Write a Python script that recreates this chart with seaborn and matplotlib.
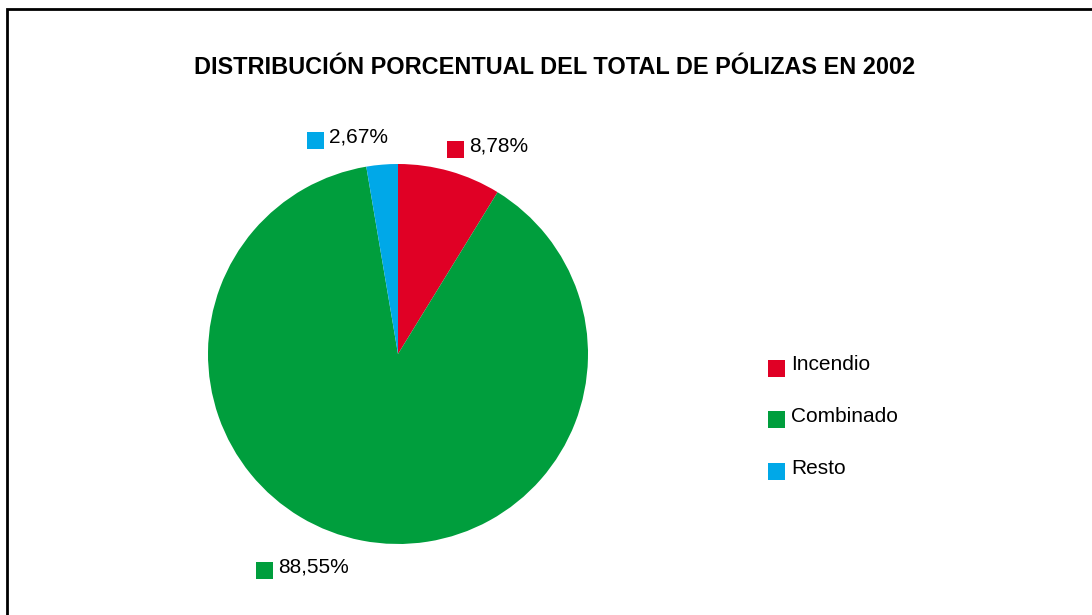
import numpy as np
import matplotlib
matplotlib.use("Agg")
import matplotlib.pyplot as plt
import matplotlib.patches as mpatches
import seaborn as sns

sns.set_theme(style="white")
plt.rcParams['font.family'] = ['Liberation Sans', 'DejaVu Sans']

categories = ["Incendio", "Combinado", "Resto"]
values = [8.78, 88.55, 2.67]
value_labels = ["8,78%", "88,55%", "2,67%"]
colors = ["#E00025", "#009E3D", "#00A8E8"]
title = "DISTRIBUCIÓN PORCENTUAL DEL TOTAL DE PÓLIZAS EN 2002"

W, H = 1092, 615
fig = plt.figure(figsize=(W / 100, H / 100), dpi=100)
fig.patch.set_facecolor("white")

# border (runs off the right and bottom edge, like the original)
fig.add_artist(mpatches.Rectangle((7 / W, -0.05), 1.2, 1 - 9 / H + 0.05,
                                  transform=fig.transFigure, fill=False,
                                  edgecolor="black", linewidth=2))

fig.text(555 / W, 1 - 67 / H, title, ha="center", va="center",
         fontsize=16.9, fontweight="bold", color="black")

# pie: centre (398, 354), radius 190 px
cx, cy, r = 398, 354, 190
ax = fig.add_axes([(cx - r) / W, 1 - (cy + r) / H, 2 * r / W, 2 * r / H])
wedges, _ = ax.pie(values, colors=colors, startangle=90, counterclock=False,
                   wedgeprops=dict(linewidth=0))
ax.set_xlim(-1, 1)
ax.set_ylim(-1, 1)
ax.set_aspect("auto")
ax.axis("off")

# data labels with small colour keys
label_pos = [(447, 149), (256, 570), (307, 140)]
for (x, y), txt, c in zip(label_pos, value_labels, colors):
    fig.add_artist(mpatches.Rectangle((x / W, 1 - (y + 8.5) / H), 17 / W, 17 / H,
                                      transform=fig.transFigure, color=c, lw=0))
    fig.text((x + 22) / W, 1 - (y - 3) / H, txt, ha="left", va="center",
             fontsize=15, color="black")

# legend
for i, (name, c) in enumerate(zip(categories, colors)):
    y = 368 + i * 51.5
    fig.add_artist(mpatches.Rectangle((768 / W, 1 - (y + 8.5) / H), 17 / W, 17 / H,
                                      transform=fig.transFigure, color=c, lw=0))
    fig.text(791 / W, 1 - (y - 3) / H, name, ha="left", va="center",
             fontsize=15, color="black")

fig.savefig("out.png", dpi=100, facecolor="white")
